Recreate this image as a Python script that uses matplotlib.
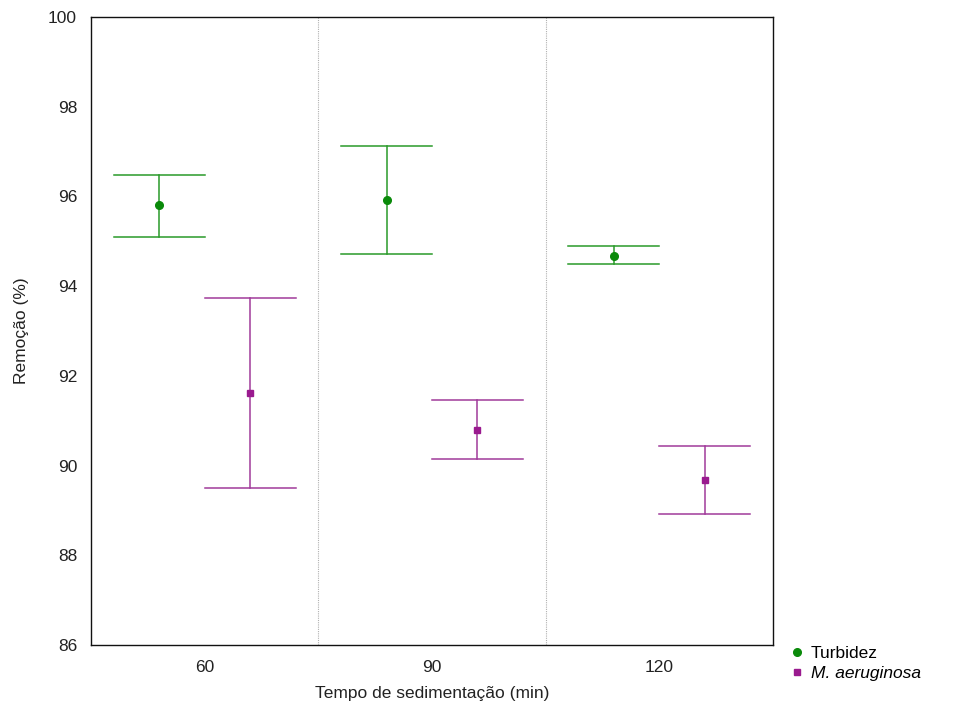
import matplotlib
matplotlib.use("Agg")
import matplotlib.pyplot as plt
import numpy as np

plt.rcParams['font.family'] = ['Liberation Sans', 'DejaVu Sans']

categories = ["60", "90", "120"]
turb_mean = [95.81, 95.92, 94.67]
turb_upper = [96.48, 97.12, 94.90]
turb_lower = [95.10, 94.72, 94.49]
mic_mean = [91.62, 90.79, 89.68]
mic_upper = [93.74, 91.46, 90.44]
mic_lower = [89.50, 90.15, 88.92]

green_line = '#2a9a2a'
green_mark = '#0a8a0a'
purple_line = '#a03a9a'
purple_mark = '#9a1a8f'

fig = plt.figure(figsize=(9.55, 7.13), dpi=100)
ax = fig.add_axes([91/955, 68/713, (773-91)/955, (645-17)/713])

centers = np.arange(len(categories)) + 0.5
off = 0.2
cap = 0.2

def draw(xs, mean, lo, hi, lc, mc, marker, ms, label):
    for x, m, l, h in zip(xs, mean, lo, hi):
        ax.plot([x, x], [l, h], color=lc, lw=1.1, zorder=2)
        ax.plot([x - cap, x + cap], [h, h], color=lc, lw=1.1, zorder=2)
        ax.plot([x - cap, x + cap], [l, l], color=lc, lw=1.1, zorder=2)
    ax.plot(xs, mean, ls='none', marker=marker, ms=ms, color=mc, label=label, zorder=3)

draw(centers - off, turb_mean, turb_lower, turb_upper, green_line, green_mark, 'o', 5.5, 'Turbidez')
draw(centers + off, mic_mean, mic_lower, mic_upper, purple_line, purple_mark, 's', 5, 'M. aeruginosa')

for s in [1, 2]:
    ax.axvline(s, color='#b0b0b0', lw=0.8, ls=(0, (1, 1)), zorder=1)

ax.set_xlim(0, 3)
ax.set_ylim(86, 100)
ax.set_xticks(centers)
ax.set_xticklabels(categories)
ax.set_yticks(np.arange(86, 101, 2))
ax.tick_params(length=0, labelsize=12.5, colors='#222222')
ax.tick_params(axis='x', pad=11)
ax.tick_params(axis='y', pad=10)
for sp in ax.spines.values():
    sp.set_linewidth(1.0)
    sp.set_color('#111111')

ax.set_xlabel('Tempo de sedimentação (min)', fontsize=12.5, labelpad=8, color='#222222')
ax.set_ylabel('Remoção (%)', fontsize=12.5, labelpad=14, color='#222222')

h, l = ax.get_legend_handles_labels()
leg = fig.legend(h, l, loc='upper left',
                 bbox_to_anchor=(778/955, 1 - 637/713), frameon=False,
                 fontsize=12.5, handletextpad=0.2, labelspacing=0.3,
                 handlelength=1.2, borderpad=0)
leg.get_texts()[1].set_style('italic')

fig.savefig('out.png', dpi=100)
